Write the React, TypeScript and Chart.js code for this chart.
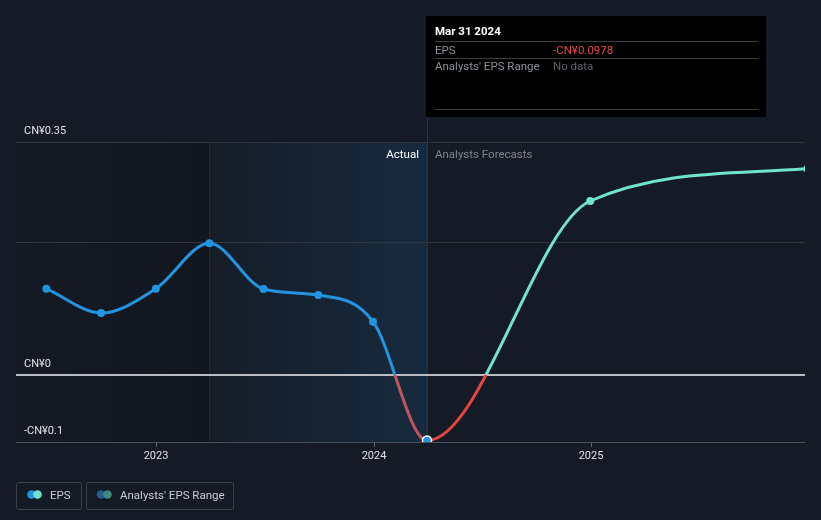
import React, { useEffect, useRef } from "react";
import { Chart, registerables } from "chart.js";

Chart.register(...registerables);

// ---------- data ----------
const periodDates = [
  "2022-06-30", "2022-09-30", "2022-12-31", "2023-03-31", "2023-06-30",
  "2023-09-30", "2023-12-31", "2024-03-31", "2024-12-31", "2025-12-31",
];
const epsValues = [0.13, 0.0935, 0.13, 0.198, 0.1295, 0.1205, 0.0805, -0.0978, 0.2615, 0.31];
const lastActualIndex = 7;

const yTickValues = [-0.1, 0, 0.2, 0.35];
const yTickLabels = ["-CN¥0.1", "CN¥0", "", "CN¥0.35"];
const xTickValues = [2023, 2024, 2025];
const xTickLabels = ["2023", "2024", "2025"];

const axisStartDate = "2022-05-10";
const axisEndDate = "2025-12-27";
const pastYearStartDate = "2023-03-31";

const tooltipTitle = "Mar 31 2024";
const tooltipRowLabels = ["EPS", "Analysts' EPS Range"];
const tooltipRowValues = ["-CN¥0.0978", "No data"];
const legendLabels = ["EPS", "Analysts' EPS Range"];
const sectionLabels = ["Actual", "Analysts Forecasts"];

// ---------- styles ----------
const BG = "#151b26";
const BLUE = "#2394df";
const CYAN = "#6fe3cf";
const RED_ACTUAL = "#c1535b";
const RED_FORECAST = "#e8443f";
const FONT = 'Roboto, "Noto Sans", sans-serif';

function toYear(iso: string): number {
  const d = new Date(iso + "T00:00:00Z");
  const y = d.getUTCFullYear();
  const s = Date.UTC(y, 0, 1);
  const e = Date.UTC(y + 1, 0, 1);
  return y + (d.getTime() - s) / (e - s);
}

function splitGradient(chart: any, above: string, below: string) {
  const { chartArea, scales } = chart;
  if (!chartArea) return above;
  const ctx = chart.ctx as CanvasRenderingContext2D;
  const zero = scales.y.getPixelForValue(0);
  const f = Math.min(1, Math.max(0, (zero - chartArea.top) / (chartArea.bottom - chartArea.top)));
  const g = ctx.createLinearGradient(0, chartArea.top, 0, chartArea.bottom);
  g.addColorStop(0, above);
  g.addColorStop(f, above);
  g.addColorStop(f, below);
  g.addColorStop(1, below);
  return g;
}

const decorPlugin = {
  id: "decor",
  beforeDraw(chart: any) {
    const { ctx, chartArea, scales } = chart;
    const { left, right, top, bottom } = chartArea;
    const x = scales.x;
    const y = scales.y;
    ctx.save();
    ctx.fillStyle = BG;
    ctx.fillRect(0, 0, chart.width, chart.height);

    const xStart = Math.round(x.getPixelForValue(toYear(pastYearStartDate)));
    const xNow = Math.round(x.getPixelForValue(toYear(periodDates[lastActualIndex])));

    // left darker region
    let g = ctx.createLinearGradient(left, 0, xStart, 0);
    g.addColorStop(0, "rgba(0,0,0,0.03)");
    g.addColorStop(1, "rgba(0,0,0,0.2)");
    ctx.fillStyle = g;
    ctx.fillRect(left, top, xStart - left, bottom - top);

    // past year blue region
    g = ctx.createLinearGradient(xStart, 0, xNow, 0);
    g.addColorStop(0, "rgba(35,148,223,0.01)");
    g.addColorStop(1, "rgba(35,148,223,0.13)");
    ctx.fillStyle = g;
    ctx.fillRect(xStart, top, xNow - xStart, bottom - top);

    // vertical line at past-year start
    ctx.strokeStyle = "#172b3e";
    ctx.lineWidth = 1;
    ctx.beginPath();
    ctx.moveTo(xStart + 0.5, top);
    ctx.lineTo(xStart + 0.5, bottom);
    ctx.stroke();

    // vertical line at now
    ctx.strokeStyle = "#22364a";
    ctx.beginPath();
    ctx.moveTo(xNow + 0.5, 117);
    ctx.lineTo(xNow + 0.5, bottom);
    ctx.stroke();

    // horizontal grid lines & labels
    ctx.font = `11px ${FONT}`;
    ctx.textBaseline = "alphabetic";
    ctx.textAlign = "left";
    yTickValues.forEach((v, i) => {
      const py = Math.round(y.getPixelForValue(v));
      if (v === 0) {
        ctx.strokeStyle = "#b9bdc3";
        ctx.lineWidth = 2;
        ctx.beginPath();
        ctx.moveTo(left, py);
        ctx.lineTo(right, py);
        ctx.stroke();
      } else {
        ctx.strokeStyle = "#303640";
        ctx.lineWidth = 1;
        ctx.beginPath();
        ctx.moveTo(left, py + 0.5);
        ctx.lineTo(right, py + 0.5);
        ctx.stroke();
      }
      if (yTickLabels[i]) {
        ctx.fillStyle = "#dfe1e4";
        ctx.fillText(yTickLabels[i], left + 8, py - 8);
      }
    });

    // x axis line
    ctx.strokeStyle = "#4a505a";
    ctx.lineWidth = 1;
    ctx.beginPath();
    ctx.moveTo(left, bottom + 0.5);
    ctx.lineTo(right, bottom + 0.5);
    ctx.stroke();
    ctx.textAlign = "center";
    xTickValues.forEach((v, i) => {
      const px = Math.round(x.getPixelForValue(v));
      ctx.strokeStyle = "#5d636c";
      ctx.beginPath();
      ctx.moveTo(px + 0.5, bottom);
      ctx.lineTo(px + 0.5, bottom + 5);
      ctx.stroke();
      ctx.fillStyle = "#dfe1e4";
      ctx.fillText(xTickLabels[i], px, bottom + 17);
    });

    // section labels
    ctx.font = `11.5px ${FONT}`;
    ctx.textAlign = "right";
    ctx.fillStyle = "#ffffff";
    ctx.fillText(sectionLabels[0], xNow - 8, top + 16);
    ctx.textAlign = "left";
    ctx.fillStyle = "#7d838c";
    ctx.fillText(sectionLabels[1], xNow + 8, top + 16);
    ctx.restore();
  },
  afterDraw(chart: any) {
    const { ctx, scales } = chart;
    const x = scales.x;
    const xNow = Math.round(x.getPixelForValue(toYear(periodDates[lastActualIndex])));
    ctx.save();
    // tooltip box
    const bx = xNow - 1;
    const bw = 340;
    ctx.fillStyle = "#000000";
    ctx.fillRect(bx, 16, bw, 101);
    const tx = bx + 9;
    const tr = bx + bw - 8;
    ctx.textAlign = "left";
    ctx.font = `bold 11.5px ${FONT}`;
    ctx.fillStyle = "#ffffff";
    ctx.fillText(tooltipTitle, tx, 35);
    ctx.strokeStyle = "#3b3d40";
    ctx.lineWidth = 1;
    [41.5, 58.5, 109.5].forEach((ly) => {
      ctx.beginPath();
      ctx.moveTo(tx, ly);
      ctx.lineTo(tr, ly);
      ctx.stroke();
    });
    ctx.font = `11.5px ${FONT}`;
    ctx.fillStyle = "#8b9098";
    ctx.fillText(tooltipRowLabels[0], tx, 53.5);
    ctx.fillText(tooltipRowLabels[1], tx, 70);
    ctx.fillStyle = "#ea4a4c";
    ctx.fillText(tooltipRowValues[0], tx + 118, 53.5);
    ctx.fillStyle = "#5c6068";
    ctx.fillText(tooltipRowValues[1], tx + 118, 70);

    // legend
    const drawBox = (x0: number, w: number) => {
      ctx.strokeStyle = "#3b414b";
      ctx.lineWidth = 1;
      ctx.beginPath();
      (ctx as any).roundRect(x0 + 0.5, 482.5, w, 27, 2);
      ctx.stroke();
    };
    const dot = (cx: number, color: string) => {
      ctx.fillStyle = color;
      ctx.beginPath();
      ctx.arc(cx, 494.5, 4.3, 0, Math.PI * 2);
      ctx.fill();
    };
    drawBox(16, 65);
    dot(31.5, BLUE);
    dot(37.5, CYAN);
    drawBox(86, 147);
    dot(101, "#1f5d8e");
    dot(107.5, "#3e8b83");
    ctx.font = `11.5px ${FONT}`;
    ctx.fillStyle = "#c8cbd0";
    ctx.fillText(legendLabels[0], 50, 498.5);
    ctx.fillText(legendLabels[1], 120, 498.5);
    ctx.restore();
  },
};

export default function App() {
  const canvasRef = useRef<HTMLCanvasElement | null>(null);

  useEffect(() => {
    document.body.style.margin = "0";
    document.body.style.background = BG;
    const canvas = canvasRef.current;
    if (!canvas) return;

    const points = periodDates.map((d, i) => ({ x: toYear(d), y: epsValues[i] }));
    const pointColors = epsValues.map((_, i) => (i <= lastActualIndex ? BLUE : CYAN));
    const pointBorderColors = epsValues.map((_, i) => (i === lastActualIndex ? "#ffffff" : i <= lastActualIndex ? BLUE : CYAN));
    const pointRadii = epsValues.map((_, i) => (i === lastActualIndex ? 4.5 : 4));
    const pointBorderWidths = epsValues.map((_, i) => (i === lastActualIndex ? 1.5 : 0));

    const chart = new Chart(canvas, {
      type: "line",
      data: {
        datasets: [
          {
            label: "EPS",
            data: points,
            borderWidth: 3,
            borderColor: (c: any) => splitGradient(c.chart, BLUE, RED_ACTUAL),
            cubicInterpolationMode: "monotone",
            pointRadius: pointRadii,
            pointBackgroundColor: pointColors,
            pointBorderColor: pointBorderColors,
            pointBorderWidth: pointBorderWidths,
            pointHoverRadius: pointRadii,
            fill: false,
            segment: {
              borderColor: (c: any) =>
                c.p0DataIndex >= lastActualIndex
                  ? splitGradient(c.chart, CYAN, RED_FORECAST)
                  : splitGradient(c.chart, BLUE, RED_ACTUAL),
            },
          } as any,
        ],
      },
      options: {
        responsive: false,
        animation: false,
        devicePixelRatio: 1,
        layout: { padding: { left: 16, right: 16, top: 142, bottom: 78 } },
        plugins: { legend: { display: false }, tooltip: { enabled: false } },
        events: [],
        scales: {
          x: {
            type: "linear",
            display: false,
            min: toYear(axisStartDate),
            max: toYear(axisEndDate),
          },
          y: {
            type: "linear",
            display: false,
            min: -0.1,
            max: 0.35,
          },
        },
      },
      plugins: [decorPlugin],
    });
    return () => chart.destroy();
  }, []);

  return (
    <div style={{ position: "absolute", left: 0, top: 0, width: 821, height: 520, background: BG }}>
      <canvas ref={canvasRef} width={821} height={520} style={{ width: 821, height: 520, display: "block" }} />
    </div>
  );
}
